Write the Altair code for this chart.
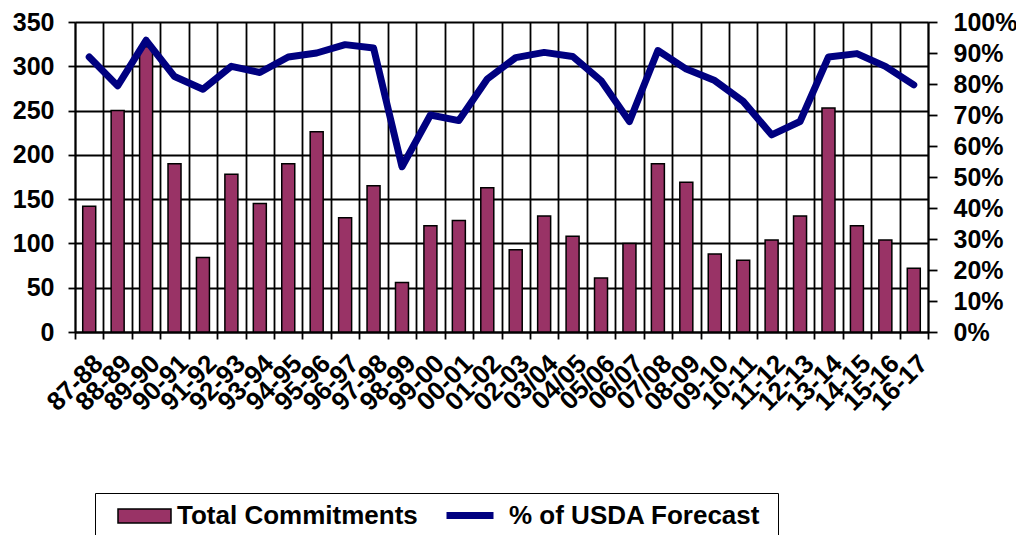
import altair as alt
import pandas as pd

seasons = ["87-88", "88-89", "89-90", "90-91", "91-92", "92-93", "93-94", "94-95",
           "95-96", "96-97", "97-98", "98-99", "99-00", "00-01", "01-02", "02-03",
           "03/04", "04/05", "05/06", "06/07", "07/08", "08-09", "09-10", "10-11",
           "11-12", "12-13", "13-14", "14-15", "15-16", "16-17"]
commitments = [142, 250, 322, 190, 84, 178, 145, 190, 226, 129, 165, 56, 120, 126,
               163, 93, 131, 108, 61, 100, 190, 169, 88, 81, 104, 131, 253, 120, 104, 72]
pct_usda = [88.7, 79.4, 94.1, 82.4, 78.3, 85.7, 83.7, 88.7, 90.0, 92.7, 91.6, 53.3,
            70.0, 68.2, 81.6, 88.5, 90.2, 88.9, 81.1, 67.9, 90.8, 84.8, 81.1, 74.4,
            63.6, 67.9, 88.7, 89.8, 85.7, 79.7]
bar_name = "Total Commitments"
line_name = "% of USDA Forecast"
bar_color = "#993366"
line_color = "#000080"

df = pd.DataFrame({"season": seasons, "commit": commitments, "pct": pct_usda})

FONT = "Liberation Sans"

legend_common = dict(
    title=None,
    orient="none",
    direction="horizontal",
    labelFont=FONT,
    labelFontSize=26,
    labelFontWeight="bold",
    labelColor="black",
    labelLimit=2000,
    symbolSize=400,
    symbolOpacity=1,
)

# Framed legend holding both entries
fill_enc = alt.Fill(
    "series:N",
    scale=alt.Scale(domain=[bar_name, line_name], range=[bar_color, line_color]),
    legend=alt.Legend(
        legendX=20,
        legendY=471,
        strokeColor="black",
        padding=10,
        labelOffset=46,
        columnPadding=19,
        symbolType="M0,-0.7H5.3V0.7H0Z",
        symbolStrokeColor="black",
        symbolStrokeWidth=1.5,
        labelExpr="datum.label === '% of USDA Forecast' ? datum.label + '\u00a0\u200b' : datum.label",
        zindex=0,
        **legend_common,
    ),
)

# Line-style swatch laid over the second entry of the framed legend
stroke_enc = alt.Stroke(
    "series:N",
    scale=alt.Scale(domain=[line_name], range=[line_color]),
    legend=alt.Legend(
        legendX=368,
        legendY=480,
        padding=0,
        fillColor="white",
        labelOffset=0,
        labelExpr="'\u200b\u00a0\u200b'",
        symbolType="M-1,0H3.7",
        symbolStrokeWidth=7,
        zindex=1,
        **legend_common,
    ),
)

x = alt.X(
    "season:N",
    sort=seasons,
    scale=alt.Scale(paddingInner=0, paddingOuter=0),
    axis=alt.Axis(
        title=None,
        labelAngle=-45,
        labelAlign="right",
        labelBaseline="top",
        labelFont=FONT,
        labelFontSize=26,
        labelFontWeight="bold",
        labelColor="black",
        labelPadding=11,
        tickBand="extent",
        grid=True,
        gridColor="black",
        gridWidth=1.8,
        tickColor="black",
        tickWidth=1.8,
        tickSize=7,
        domainColor="black",
        domainWidth=1.8,
    ),
)

bars = alt.Chart(df).transform_calculate(series="'Total Commitments'").mark_bar(
    size=13, stroke="black", strokeWidth=1.5, opacity=1
).encode(
    x=x,
    y=alt.Y(
        "commit:Q",
        scale=alt.Scale(domain=[0, 350], nice=False),
        axis=alt.Axis(
            title=None,
            values=[0, 50, 100, 150, 200, 250, 300, 350],
            labelFont=FONT,
            labelFontSize=25,
            labelFontWeight="bold",
            labelColor="black",
            labelPadding=14,
            grid=True,
            gridColor="black",
            gridWidth=1.8,
            tickColor="black",
            tickWidth=1.8,
            tickSize=7,
            domainColor="black",
            domainWidth=1.8,
        ),
    ),
    fill=fill_enc,
)

line = alt.Chart(df).transform_calculate(series="'% of USDA Forecast'").mark_line(
    strokeWidth=7, strokeJoin="round", strokeCap="round"
).encode(
    x=alt.X("season:N", sort=seasons),
    y=alt.Y(
        "pct:Q",
        scale=alt.Scale(domain=[0, 100], nice=False),
        axis=alt.Axis(
            title=None,
            orient="right",
            values=[0, 10, 20, 30, 40, 50, 60, 70, 80, 90, 100],
            labelExpr="datum.value + '%'",
            labelFont=FONT,
            labelFontSize=25,
            labelFontWeight="bold",
            labelColor="black",
            labelPadding=16,
            grid=False,
            tickColor="black",
            tickWidth=1.8,
            tickSize=9,
            domainColor="black",
            domainWidth=1.8,
        ),
    ),
    stroke=stroke_enc,
)

chart = alt.layer(bars, line).resolve_scale(y="independent").properties(
    width=853,
    height=310,
    autosize=alt.AutoSizeParams(type="none"),
    padding={"left": 67, "top": 14, "right": 88, "bottom": 203},
    background="white",
).configure_view(strokeWidth=0)

chart.save("out.html", embed_options={"renderer": "svg", "actions": False})
